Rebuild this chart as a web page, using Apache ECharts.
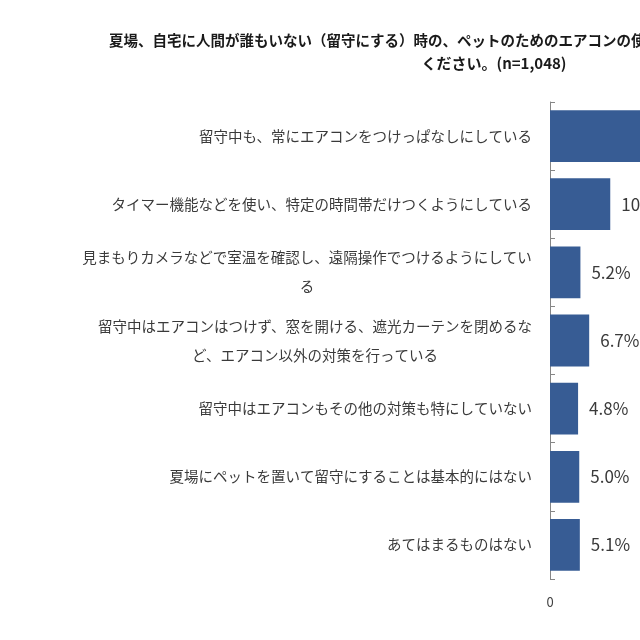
<!DOCTYPE html>
<html lang="ja">
<head>
    <meta charset="UTF-8">
    <title>ペットのためのエアコンの使用状況</title>
    <style>
        html, body { margin: 0; padding: 0; overflow: hidden; background: #fff; }
        #main { width: 1040px; height: 640px; }
    </style>
</head>
<body>
    <div id="main"></div>
    <script src="https://cdn.jsdelivr.net/npm/echarts@6/dist/echarts.min.js"></script>
    <script>
        // 設問と回答データ
        var titleLines = [
            '夏場、自宅に人間が誰もいない（留守にする）時の、ペットのためのエアコンの使用状況について、あてはまるものを1つお選び',
            'ください。(n=1,048)'
        ];
        var categories = [
            '留守中も、常にエアコンをつけっぱなしにしている',
            'タイマー機能などを使い、特定の時間帯だけつくようにしている',
            '見まもりカメラなどで室温を確認し、遠隔操作でつけるようにしてい\nる',
            '留守中はエアコンはつけず、窓を開ける、遮光カーテンを閉めるな\nど、エアコン以外の対策を行っている',
            '留守中はエアコンもその他の対策も特にしていない',
            '夏場にペットを置いて留守にすることは基本的にはない',
            'あてはまるものはない'
        ];
        var values = [62.9, 10.3, 5.2, 6.7, 4.8, 5.0, 5.1];

        var FONT = '"Noto Sans CJK JP", "Noto Sans", sans-serif';
        var labelSize = 14.5;

        // 折り返しラベルは2行目を中央寄せにするため、行ごとの幅を測る
        var ctx = document.createElement('canvas').getContext('2d');
        ctx.font = labelSize + 'px ' + FONT;
        var rich = {};
        categories.forEach(function (c, i) {
            var lines = c.split('\n');
            if (lines.length > 1) {
                var w = 0;
                lines.forEach(function (l) { w = Math.max(w, ctx.measureText(l).width); });
                rich['c' + i] = { width: Math.ceil(w), align: 'center', fontSize: labelSize, lineHeight: 29, color: '#3a3a3a', fontFamily: FONT };
            }
        });

        var titleStyle = {
            fontSize: 14.5,
            fontWeight: 'bold',
            color: '#1a1a1a',
            fontFamily: FONT
        };

        var chart = echarts.init(document.getElementById('main'));
        chart.setOption({
            animation: false,
            textStyle: { fontFamily: FONT },
            title: [{
                text: titleLines[0],
                left: 104,
                top: 28,
                textStyle: titleStyle
            }, {
                text: titleLines[1],
                left: 489,
                textAlign: 'center',
                top: 51,
                textStyle: { fontSize: 15, fontWeight: 'bold', color: '#1a1a1a', fontFamily: FONT }
            }],
            grid: {
                left: 550,
                top: 102,
                width: 468,
                height: 477,
                containLabel: false,
                outerBoundsMode: 'none'
            },
            xAxis: {
                type: 'value',
                min: 0,
                max: 80,
                interval: 20,
                splitLine: { show: false },
                axisLine: { show: false },
                axisTick: { show: false },
                axisLabel: { fontSize: 13, color: '#404040', margin: 17 }
            },
            yAxis: {
                type: 'category',
                inverse: true,
                data: categories,
                axisLine: { show: true, lineStyle: { color: '#868686', width: 1 } },
                axisTick: { show: true, inside: true, length: 5, lineStyle: { color: '#868686' } },
                axisLabel: {
                    margin: 18,
                    fontSize: labelSize,
                    lineHeight: 29,
                    color: '#3a3a3a',
                    formatter: function (v, i) {
                        var lines = v.split('\n');
                        if (lines.length === 1) return v;
                        return lines.map(function (l) { return '{c' + i + '|' + l + '}'; }).join('\n');
                    },
                    rich: rich
                }
            },
            series: [{
                type: 'bar',
                data: values,
                barCategoryGap: '24%',
                itemStyle: { color: '#375c94' },
                label: {
                    show: true,
                    position: 'right',
                    distance: 11,
                    fontSize: 17,
                    color: '#3a3a3a',
                    formatter: function (p) { return p.value.toFixed(1) + '%'; }
                }
            }]
        });
    </script>
</body>
</html>
